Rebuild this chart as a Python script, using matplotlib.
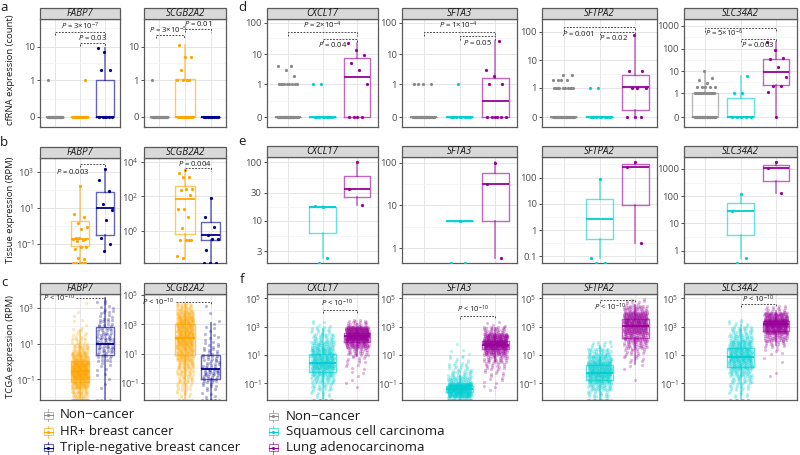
import numpy as np
import matplotlib
matplotlib.use("Agg")
import matplotlib.pyplot as plt
from matplotlib.patches import Rectangle
from matplotlib.ticker import NullFormatter
import matplotlib.transforms as mtransforms

plt.rcParams['font.family'] = ['Open Sans', 'DejaVu Sans']
plt.rcParams['mathtext.fontset'] = 'custom'
plt.rcParams['mathtext.rm'] = 'Open Sans'
plt.rcParams['mathtext.it'] = 'Open Sans:italic'
plt.rcParams['mathtext.bf'] = 'Open Sans:bold'
plt.rcParams['mathtext.sf'] = 'Open Sans'

# ======================= DATA =======================
BREAST_GROUPS = ["Non\u2212cancer", "HR+ breast cancer", "Triple-negative breast cancer"]
LUNG_GROUPS = ["Non\u2212cancer", "Squamous cell carcinoma", "Lung adenocarcinoma"]
BREAST_COLORS = ["#8A8A8A", "#FFA500", "#00008B"]
LUNG_COLORS = ["#8A8A8A", "#00CED1", "#990099"]

# box stats order: [whisker low, Q1, median, Q3, whisker high]
# ---- a: cfRNA counts, breast ----
A_FABP7_NC = [0] * 30 + [1]
A_FABP7_HR = [0] * 20 + [1]
A_FABP7_TN = [0] * 6 + [2, 2, 7, 9]
A_FABP7_BOX = [[0, 0, 0, 0, 0], [0, 0, 0, 0, 0], [0, 0, 0, 1, 9]]
A_FABP7_P = ["= 3\u00d710$^{-7}$", "= 0.03"]
A_SCGB2A2_NC = [0] * 30 + [1]
A_SCGB2A2_HR = [0] * 15 + [1, 1, 1, 1, 2, 5, 5, 11]
A_SCGB2A2_TN = [0] * 10
A_SCGB2A2_BOX = [[0, 0, 0, 0, 0], [0, 0, 0, 1.1, 11], [0, 0, 0, 0, 0]]
A_SCGB2A2_P = ["= 0.01", "= 3\u00d710$^{-5}$"]

# ---- b: tissue RPM, breast ----
B_FABP7_HR = [166, 4.5, 3.0, 1.35, 0.87, 0.7, 0.2, 0.19, 0.21, 0.18, 0.16, 0.14,
              0.068, 0.063, 0.049, 0.015, 0.016, 0, 0, 0, 0, 0]
B_FABP7_TN = [1350, 350, 89, 17, 7.4, 2.1, 0.21, 0.1, 0.04]
B_FABP7_BOX = [None, [0, 0.081, 0.19, 1.8, 166], [0.04, 0.30, 10, 79, 1350]]
B_FABP7_P = ["= 0.003"]
B_SCGB2A2_HR = [3300, 2100, 1350, 1300, 250, 260, 240, 120, 17, 18, 6.5, 1.4,
                0.29, 0.30, 0.28, 0.29, 0.025, 0.034]
B_SCGB2A2_TN = [76, 6.5, 1.6, 0.56, 0.32, 0.31, 0.076, 0, 0, 0]
B_SCGB2A2_BOX = [None, [0.025, 0.62, 66, 390, 3300], [0, 0.29, 0.56, 3.3, 76]]
B_SCGB2A2_P = ["= 0.004"]

# ---- c: TCGA RPM, breast (dense: counts per half-decade bin + zeros) ----
TCGA_BIN_EDGES_LOG10 = [-2.0, -1.5, -1.0, -0.5, 0.0, 0.5, 1.0, 1.5, 2.0, 2.5, 3.0, 3.5, 4.0, 4.5, 5.0]
C_FABP7_HR_COUNTS = [40, 80, 150, 140, 70, 35, 15, 6, 3, 2, 1, 0, 0, 0]
C_FABP7_HR_ZEROS = 60
C_FABP7_TN_COUNTS = [0, 2, 3, 5, 12, 22, 22, 16, 12, 8, 5, 0, 0, 0]
C_FABP7_TN_ZEROS = 3
C_FABP7_BOX = [None, [0, 0.074, 0.30, 1.1, 58], [0, 2.3, 10, 87, 3300]]
C_SCGB2A2_HR_COUNTS = [8, 15, 20, 25, 35, 50, 60, 75, 80, 75, 70, 50, 25, 0]
C_SCGB2A2_HR_ZEROS = 10
C_SCGB2A2_TN_COUNTS = [4, 8, 15, 20, 16, 12, 8, 6, 4, 3, 2, 1, 1, 0]
C_SCGB2A2_TN_ZEROS = 8
C_SCGB2A2_BOX = [None, [0, 7.6, 112, 1000, 25000], [0, 0.19, 0.93, 7.6, 1260]]
C_P = ["< 10$^{-10}$"]

# ---- d: cfRNA counts, lung ----
D_CXCL17_NC = [0] * 40 + [1] * 9 + [2, 3, 4, 4]
D_CXCL17_SQ = [0] * 8 + [1, 1]
D_CXCL17_LU = [0, 0, 0, 0, 1, 3, 5, 9.5, 14, 22]
D_CXCL17_BOX = [[0, 0, 0, 0, 0], [0, 0, 0, 0, 0], [0, 0, 1.8, 7.7, 22]]
D_CXCL17_P = ["= 2\u00d710$^{-4}$", "= 0.04"]
D_SFTA3_NC = [0] * 40 + [1] * 4
D_SFTA3_SQ = [0] * 8 + [1]
D_SFTA3_LU = [0] * 6 + [1, 1, 2, 3, 26]
D_SFTA3_BOX = [[0, 0, 0, 0, 0], [0, 0, 0, 0, 0], [0, 0, 0.24, 1.6, 26]]
D_SFTA3_P = ["= 1\u00d710$^{-4}$", "= 0.05"]
D_SFTPA2_NC = [0] * 40 + [1] * 10 + [2, 2, 2, 2, 3, 3]
D_SFTPA2_SQ = [0] * 8 + [1, 1]
D_SFTPA2_LU = [0, 0, 0, 1, 1, 1, 4, 4, 77]
D_SFTPA2_BOX = [[0, 0, 0, 0, 0], [0, 0, 0, 0, 0], [0, 0.08, 1.1, 3.0, 77]]
D_SFTPA2_P = ["= 0.001", "= 0.02"]
D_SLC34A2_NC = [0] * 40 + [1] * 15 + [2] * 5 + [3, 4, 5, 10]
D_SLC34A2_SQ = [0] * 5 + [1, 1, 6]
D_SLC34A2_LU = [0, 1.2, 2.3, 2.3, 5.5, 16, 36, 38, 87, 190]
D_SLC34A2_BOX = [[0, 0, 0, 1, 10], [0, 0, 0, 0.6, 6], [0, 2.4, 9.7, 35, 190]]
D_SLC34A2_P = ["= 5\u00d710$^{-6}$", "= 0.003"]

# ---- e: tissue RPM, lung ----
E_CXCL17_SQ = [17.2, 18, 2.3, 0]
E_CXCL17_LU = [100, 35, 18.5]
E_CXCL17_BOX = [None, [2.3, 6.2, 17, 17.2, 18], [18.5, 25, 35, 59, 100]]
E_SFTA3_SQ = [4.4, 0, 0]
E_SFTA3_LU = [100, 32, 0.6]
E_SFTA3_BOX = [None, [4.4, 4.4, 4.4, 4.4, 4.4], [0.6, 4.4, 32, 57, 105]]
E_SFTPA2_SQ = [87, 0.087, 0, 0]
E_SFTPA2_LU = [380, 245, 0.32]
E_SFTPA2_BOX = [None, [0.087, 0.46, 2.6, 15.5, 87], [0.32, 8.9, 245, 320, 380]]
E_SLC34A2_SQ = [122, 28, 0.54, 0]
E_SLC34A2_LU = [1800, 1090, 131]
E_SLC34A2_BOX = [None, [0.54, 3.9, 28, 56, 122], [131, 370, 1090, 1440, 1800]]

# ---- f: TCGA RPM, lung (dense) ----
F_CXCL17_SQ_COUNTS = [10, 20, 35, 60, 100, 85, 70, 50, 30, 15, 5, 0, 0, 0]
F_CXCL17_SQ_ZEROS = 15
F_CXCL17_LU_COUNTS = [0, 1, 2, 3, 5, 10, 25, 80, 200, 150, 20, 0, 0, 0]
F_CXCL17_LU_ZEROS = 0
F_CXCL17_BOX = [None, [0, 0.66, 2.75, 11.7, 630], [8, 79, 214, 363, 1600]]
F_SFTA3_SQ_COUNTS = [140, 200, 50, 25, 15, 8, 3, 1, 0, 0, 0, 0, 0, 0]
F_SFTA3_SQ_ZEROS = 40
F_SFTA3_LU_COUNTS = [0, 3, 5, 8, 15, 30, 80, 200, 120, 30, 4, 0, 0, 0]
F_SFTA3_LU_ZEROS = 0
F_SFTA3_BOX = [None, [0, 0.023, 0.038, 0.068, 0.35], [3.5, 26, 52, 100, 740]]
F_SFTPA2_SQ_COUNTS = [20, 40, 80, 110, 100, 60, 35, 12, 0, 0, 0, 0, 0, 0]
F_SFTPA2_SQ_ZEROS = 25
F_SFTPA2_LU_COUNTS = [0, 0, 1, 0, 3, 8, 15, 35, 60, 100, 120, 100, 40, 10]
F_SFTPA2_LU_ZEROS = 0
F_SFTPA2_BOX = [None, [0, 0.17, 0.56, 1.95, 40], [2.2, 158, 1070, 3630, 36000]]
F_SLC34A2_SQ_COUNTS = [8, 15, 25, 40, 70, 90, 85, 65, 40, 25, 8, 0, 0, 0]
F_SLC34A2_SQ_ZEROS = 12
F_SLC34A2_LU_COUNTS = [0, 0, 0, 2, 0, 2, 5, 15, 45, 120, 200, 90, 15, 0]
F_SLC34A2_LU_ZEROS = 0
F_SLC34A2_BOX = [None, [0, 1.5, 6.9, 32, 1260], [50, 500, 1410, 2510, 12600]]

# ======================= DRAWING =======================
W, H = 800, 455
fig = plt.figure(figsize=(W / 100, H / 100), dpi=100)
fig.patch.set_facecolor("white")

GRID_MAJ = "#E6E6E6"
GRID_MIN = "#F2F2F2"
BORDER = "#5A5A5A"
PHI = 0.6180339887
R2_A1 = 0.7548776662
R2_A2 = 0.5698402910
TICK_FS = 6.8
STRIP_FS = 7


def fwd(x):
    x = np.asarray(x, dtype=float)
    return np.log10(np.clip(x + 0.1, 1e-9, None))


def inv(t):
    return 10.0 ** np.asarray(t, dtype=float) - 0.1


def frac(v):
    return v - np.floor(v)


def pfmt(s):
    return r"$\mathit{P}$ " + s


def panel(rect, strip, gene, kind, ylim_t, ticks, ticklabels, colors,
          pts=None, dense=None, boxes=None, brackets=()):
    x0, y0, x1, y1 = rect
    ax = fig.add_axes([x0 / W, 1 - y1 / H, (x1 - x0) / W, (y1 - y0) / H])
    if kind == "count":
        ax.set_yscale("function", functions=(fwd, inv))
        tr, itr = fwd, inv
    else:
        ax.set_yscale("log")
        tr, itr = (lambda v: np.log10(np.asarray(v, dtype=float))), (lambda t: 10.0 ** np.asarray(t))
    lo, hi = float(itr(ylim_t[0])), float(itr(ylim_t[1]))
    ax.set_ylim(lo, hi)
    ax.set_xlim(0.4, 3.6)
    floor = lo

    def fix(v):
        if kind == "log" and v <= 0:
            return floor
        return v

    # grid
    ax.set_yticks(ticks)
    ax.set_yticklabels(ticklabels)
    tt = np.asarray(tr(ticks), dtype=float)
    step = tt[1] - tt[0]
    mids = list((tt[:-1] + tt[1:]) / 2) + [tt[0] - step / 2, tt[-1] + step / 2]
    mids = [m for m in mids if ylim_t[0] < m < ylim_t[1]]
    ax.set_yticks([float(itr(m)) for m in mids], minor=True)
    ax.yaxis.set_minor_formatter(NullFormatter())
    ax.set_xticks([1, 2, 3])
    ax.set_xticklabels([])
    ax.tick_params(axis="x", length=0)
    ax.tick_params(axis="y", which="major", length=2.5, width=0.6, color="#333333",
                   labelsize=TICK_FS, labelcolor="#4D4D4D", pad=1.3)
    ax.tick_params(axis="y", which="minor", length=0)
    ax.grid(True, which="major", color=GRID_MAJ, lw=0.7)
    ax.grid(True, which="minor", axis="y", color=GRID_MIN, lw=0.5)
    ax.set_axisbelow(True)
    for s in ax.spines.values():
        s.set_color(BORDER)
        s.set_linewidth(0.9)

    # points
    for g in range(3):
        col = colors[g]
        pos = g + 1
        if pts is not None and pts[g] is not None and len(pts[g]) > 0:
            vals = [fix(v) for v in pts[g]]
            n = np.arange(len(vals))
            xs = pos + (frac(0.5 + n * PHI) - 0.5) * 0.6
            ax.plot(xs, vals, "o", ms=2.3, color=col, mec="none", zorder=3)
        if dense is not None and dense[g] is not None:
            counts, zeros = dense[g]
            ys = []
            for k, e0 in zip(counts, TCGA_BIN_EDGES_LOG10[:-1]):
                j = np.arange(k)
                ys.extend(10 ** (e0 + 0.5 * frac(0.5 + j * R2_A2)))
            ys += [floor] * zeros
            n = np.arange(len(ys))
            xs = pos + (frac(0.5 + n * R2_A1) - 0.5) * 0.66
            ax.plot(xs, ys, "o", ms=2.3, color=col, mec="none", alpha=0.28, zorder=2)
        if boxes is not None and boxes[g] is not None:
            b = [fix(v) for v in boxes[g]]
            st = dict(whislo=b[0], q1=b[1], med=b[2], q3=b[3], whishi=b[4], fliers=[])
            ax.bxp([st], positions=[pos], widths=0.75, showfliers=False, showcaps=False,
                   manage_ticks=False,
                   boxprops=dict(color=col, alpha=0.6, lw=1.0),
                   whiskerprops=dict(color=col, alpha=0.5, lw=1.3),
                   medianprops=dict(color=col, lw=1.3), zorder=4)

    # brackets
    trans = mtransforms.blended_transform_factory(ax.transData, ax.transAxes)
    for br in brackets:
        xa, xb, yf, label, tx, ty, ha, ticks_ends = br
        tl = 0.03
        xsL = [xa, xb]
        ysL = [yf, yf]
        if ticks_ends == "both":
            xsL = [xa, xa, xb, xb]
            ysL = [yf - tl, yf, yf, yf - tl]
        elif ticks_ends == "right":
            xsL = [xa, xb, xb]
            ysL = [yf, yf, yf - tl]
        ax.plot(xsL, ysL, transform=trans, ls=(0, (2.2, 1.6)), color="#333333",
                lw=0.6, clip_on=False, zorder=6)
        ax.text(tx, ty, pfmt(label), transform=trans, ha=ha, va="center",
                fontsize=5.5, color="#1A1A1A", zorder=7)

    # strip
    sy0, sy1 = strip
    ov.add_patch(Rectangle((x0, sy0), x1 - x0, sy1 - sy0, facecolor="#D9D9D9",
                           edgecolor=BORDER, lw=0.9))
    ov.text((x0 + x1) / 2, (sy0 + sy1) / 2 + 0.3, gene, ha="center", va="center",
            fontsize=STRIP_FS, style="italic", color="#1A1A1A")
    return ax


ov = fig.add_axes([0, 0, 1, 1])
ov.set_xlim(0, W)
ov.set_ylim(H, 0)
ov.axis("off")
ov.set_zorder(10)
ov.patch.set_alpha(0)

# ---------------- row a ----------------
A_STRIP = (8, 19)
A_TICKS = [0, 1, 10]
panel((40, 19, 120, 127), A_STRIP, "FABP7", "count", (-1.29, 1.79), A_TICKS, ["0", "1", "10"],
      BREAST_COLORS, pts=[A_FABP7_NC, A_FABP7_HR, A_FABP7_TN], boxes=A_FABP7_BOX,
      brackets=[(1, 3, 0.88, A_FABP7_P[0], 2.0, 0.93, "center", "both"),
                (2, 3, 0.778, A_FABP7_P[1], 2.5, 0.826, "center", "both")])
panel((144, 19, 226, 127), A_STRIP, "SCGB2A2", "count", (-1.29, 1.79), A_TICKS, ["0", "1", "10"],
      BREAST_COLORS, pts=[A_SCGB2A2_NC, A_SCGB2A2_HR, A_SCGB2A2_TN], boxes=A_SCGB2A2_BOX,
      brackets=[(2, 3, 0.907, A_SCGB2A2_P[0], 2.5, 0.955, "center", "both"),
                (0.85, 1.95, 0.852, A_SCGB2A2_P[1], 1.35, 0.897, "center", "both")])

# ---------------- row d ----------------
D_STRIP = (8, 19)
panel((267, 19, 378, 127), D_STRIP, "CXCL17", "count", (-1.31, 2.12), [0, 1, 10, 100],
      ["0", "1", "10", "100"], LUNG_COLORS,
      pts=[D_CXCL17_NC, D_CXCL17_SQ, D_CXCL17_LU], boxes=D_CXCL17_BOX,
      brackets=[(1, 3, 0.877, D_CXCL17_P[0], 2.0, 0.938, "center", "both"),
                (2, 3, 0.815, D_CXCL17_P[1], 2.3, 0.765, "center", "both")])
panel((402, 19, 517, 127), D_STRIP, "SFTA3", "count", (-1.31, 2.12), [0, 1, 10, 100],
      ["0", "1", "10", "100"], LUNG_COLORS,
      pts=[D_SFTA3_NC, D_SFTA3_SQ, D_SFTA3_LU], boxes=D_SFTA3_BOX,
      brackets=[(1, 3, 0.877, D_SFTA3_P[0], 1.96, 0.938, "center", "both"),
                (2, 3, 0.84, D_SFTA3_P[1], 2.5, 0.78, "center", "both")])
panel((542, 19, 657, 127), D_STRIP, "SFTPA2", "count", (-1.34, 2.45), [0, 1, 10, 100],
      ["0", "1", "10", "100"], LUNG_COLORS,
      pts=[D_SFTPA2_NC, D_SFTPA2_SQ, D_SFTPA2_LU], boxes=D_SFTPA2_BOX,
      brackets=[(1, 3, 0.923, D_SFTPA2_P[0], 1.42, 0.868, "center", "both"),
                (2, 3, 0.882, D_SFTPA2_P[1], 2.4, 0.832, "center", "both")])
panel((684, 19, 797, 127), D_STRIP, "SLC34A2", "count", (-1.42, 3.29), [0, 1, 10, 100, 1000],
      ["0", "1", "10", "100", "1000"], LUNG_COLORS,
      pts=[D_SLC34A2_NC, D_SLC34A2_SQ, D_SLC34A2_LU], boxes=D_SLC34A2_BOX,
      brackets=[(1, 3, 0.914, D_SLC34A2_P[0], 1.52, 0.866, "center", "both"),
                (2, 3, 0.815, D_SLC34A2_P[1], 2.48, 0.765, "center", "both")])

# ---------------- row b ----------------
B_STRIP = (147, 158)
panel((40, 158, 120, 263), B_STRIP, "FABP7", "log", (-2.06, 3.76), [0.1, 10, 1000],
      ["$10^{-1}$", "$10^{1}$", "$10^{3}$"], BREAST_COLORS,
      pts=[None, B_FABP7_HR, B_FABP7_TN], boxes=B_FABP7_BOX,
      brackets=[(2, 3, 0.943, B_FABP7_P[0], 1.72, 0.876, "center", "both")])
panel((144, 158, 226, 263), B_STRIP, "SCGB2A2", "log", (-1.87, 4.21), [1, 100, 1e4],
      ["$10^{0}$", "$10^{2}$", "$10^{4}$"], BREAST_COLORS,
      pts=[None, B_SCGB2A2_HR, B_SCGB2A2_TN], boxes=B_SCGB2A2_BOX,
      brackets=[(2, 3, 0.905, B_SCGB2A2_P[0], 2.4, 0.952, "center", "both")])

# ---------------- row e ----------------
E_STRIP = (146, 157)
panel((267, 157, 378, 263), E_STRIP, "CXCL17", "log", (0.274, 2.09), [3, 10, 30, 100],
      ["3", "10", "30", "100"], LUNG_COLORS,
      pts=[None, E_CXCL17_SQ, E_CXCL17_LU], boxes=E_CXCL17_BOX)
panel((402, 157, 517, 263), E_STRIP, "SFTA3", "log", (-0.34, 2.13), [1, 10, 100],
      ["1", "10", "100"], LUNG_COLORS,
      pts=[None, E_SFTA3_SQ, E_SFTA3_LU], boxes=E_SFTA3_BOX)
panel((542, 157, 657, 263), E_STRIP, "SFTPA2", "log", (-1.25, 2.78), [0.1, 1, 10, 100],
      ["0.1", "1", "10", "100"], LUNG_COLORS,
      pts=[None, E_SFTPA2_SQ, E_SFTPA2_LU], boxes=E_SFTPA2_BOX)
panel((684, 157, 797, 263), E_STRIP, "SLC34A2", "log", (-0.45, 3.44), [1, 10, 100, 1000],
      ["1", "10", "100", "1000"], LUNG_COLORS,
      pts=[None, E_SLC34A2_SQ, E_SLC34A2_LU], boxes=E_SLC34A2_BOX)

# ---------------- row c ----------------
C_STRIP = (283, 294)
panel((40, 294, 120, 400), C_STRIP, "FABP7", "log", (-2.15, 3.76), [0.1, 10, 1000],
      ["$10^{-1}$", "$10^{1}$", "$10^{3}$"], BREAST_COLORS,
      dense=[None, (C_FABP7_HR_COUNTS, C_FABP7_HR_ZEROS), (C_FABP7_TN_COUNTS, C_FABP7_TN_ZEROS)],
      boxes=C_FABP7_BOX,
      brackets=[(1.85, 3, 0.962, C_P[0], 1.8, 0.962, "right", "right")])
panel((144, 294, 226, 400), C_STRIP, "SCGB2A2", "log", (-2.18, 5.07), [0.1, 10, 1000, 1e5],
      ["$10^{-1}$", "$10^{1}$", "$10^{3}$", "$10^{5}$"], BREAST_COLORS,
      dense=[None, (C_SCGB2A2_HR_COUNTS, C_SCGB2A2_HR_ZEROS), (C_SCGB2A2_TN_COUNTS, C_SCGB2A2_TN_ZEROS)],
      boxes=C_SCGB2A2_BOX,
      brackets=[(1.65, 3, 0.925, C_P[0], 1.6, 0.925, "right", "right")])

# ---------------- row f ----------------
F_STRIP = (283, 294)
F_TICKS = [0.1, 10, 1000, 1e5]
F_LABELS = ["$10^{-1}$", "$10^{1}$", "$10^{3}$", "$10^{5}$"]
panel((267, 294, 378, 400), F_STRIP, "CXCL17", "log", (-2.18, 5.3), F_TICKS, F_LABELS, LUNG_COLORS,
      dense=[None, (F_CXCL17_SQ_COUNTS, F_CXCL17_SQ_ZEROS), (F_CXCL17_LU_COUNTS, F_CXCL17_LU_ZEROS)],
      boxes=F_CXCL17_BOX,
      brackets=[(2, 3, 0.849, C_P[0], 2.42, 0.915, "center", "both")])
panel((402, 294, 517, 400), F_STRIP, "SFTA3", "log", (-2.18, 5.3), F_TICKS, F_LABELS, LUNG_COLORS,
      dense=[None, (F_SFTA3_SQ_COUNTS, F_SFTA3_SQ_ZEROS), (F_SFTA3_LU_COUNTS, F_SFTA3_LU_ZEROS)],
      boxes=F_SFTA3_BOX,
      brackets=[(2, 3, 0.792, C_P[0], 2.38, 0.858, "center", "both")])
panel((542, 294, 657, 400), F_STRIP, "SFTPA2", "log", (-2.18, 5.3), F_TICKS, F_LABELS, LUNG_COLORS,
      dense=[None, (F_SFTPA2_SQ_COUNTS, F_SFTPA2_SQ_ZEROS), (F_SFTPA2_LU_COUNTS, F_SFTPA2_LU_ZEROS)],
      boxes=F_SFTPA2_BOX,
      brackets=[(2, 3, 0.943, C_P[0], 2.3, 0.877, "center", "both")])
panel((684, 294, 797, 400), F_STRIP, "SLC34A2", "log", (-2.18, 5.3), F_TICKS, F_LABELS, LUNG_COLORS,
      dense=[None, (F_SLC34A2_SQ_COUNTS, F_SLC34A2_SQ_ZEROS), (F_SLC34A2_LU_COUNTS, F_SLC34A2_LU_ZEROS)],
      boxes=F_SLC34A2_BOX,
      brackets=[(2, 3, 0.906, C_P[0], 2.5, 0.953, "center", "both")])

# ---------------- letters & axis titles ----------------
for letter, (lx, ly) in {"a": (4, 11), "b": (4, 146), "c": (4, 286),
                         "d": (242, 11), "e": (242, 145), "f": (242, 283)}.items():
    ov.text(lx, ly, letter, ha="center", va="baseline", fontsize=9.5, color="#1A1A1A")

YL_FS = 6.8
ov.text(11, 70, "cfRNA expression (count)", rotation=90, ha="center", va="center",
        fontsize=YL_FS, color="#1A1A1A")
ov.text(11, 210, "Tissue expression (RPM)", rotation=90, ha="center", va="center",
        fontsize=YL_FS, color="#1A1A1A")
ov.text(11, 347, "TCGA expression (RPM)", rotation=90, ha="center", va="center",
        fontsize=YL_FS, color="#1A1A1A")


# ---------------- legends ----------------
def legend_key(x, y, col):
    ov.add_patch(Rectangle((x - 4.5, y - 3.5), 9, 7, fill=False, edgecolor=col, alpha=0.6, lw=0.8))
    ov.plot([x, x], [y - 6, y - 3.5], color=col, alpha=0.6, lw=0.8)
    ov.plot([x, x], [y + 3.5, y + 6], color=col, alpha=0.6, lw=0.8)
    ov.plot([x - 4.5, x + 4.5], [y, y], color=col, lw=0.8)
    ov.plot([x], [y], "o", ms=2.2, color=col, mec="none")


for i, (name, col) in enumerate(zip(BREAST_GROUPS, BREAST_COLORS)):
    yy = [415, 431.5, 447.5][i]
    legend_key(48, yy, col)
    ov.text(60, yy, name, ha="left", va="center", fontsize=9.5, color="#1A1A1A")
for i, (name, col) in enumerate(zip(LUNG_GROUPS, LUNG_COLORS)):
    yy = [416, 431.5, 447.5][i]
    legend_key(273, yy, col)
    ov.text(286, yy, name, ha="left", va="center", fontsize=9.5, color="#1A1A1A")

fig.savefig("out.png", dpi=100)
